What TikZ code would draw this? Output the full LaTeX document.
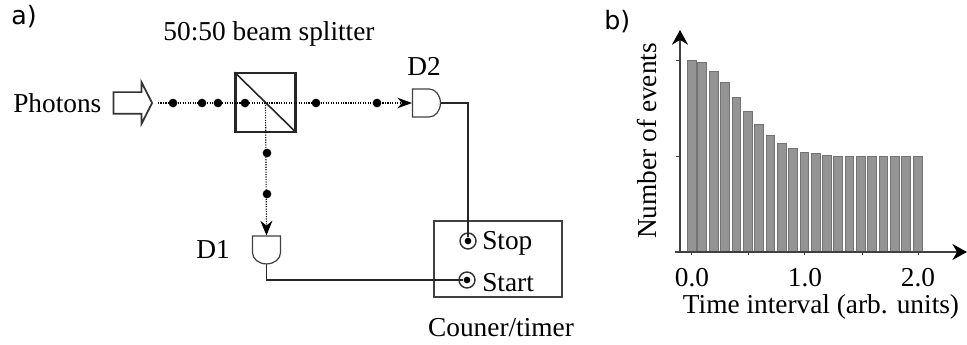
\documentclass[tikz,border=0pt]{standalone}
\usepackage{fontspec}
\setmainfont{Liberation Serif}
\newfontfamily\panelfont{DejaVu Sans}
\usetikzlibrary{arrows.meta,shapes.arrows,shapes.gates.logic.US}
\tikzset{
  label text/.style={inner sep=0.75pt,font=\fontsize{20.5}{24}\selectfont},
  panel text/.style={inner sep=0.75pt,font=\panelfont\fontsize{19}{22}\selectfont},
  photon/.style={circle,fill=black,inner sep=0pt,minimum size=6.5pt},
  beam/.style={densely dotted,line width=0.85pt},
  wire/.style={line width=1pt,color=black!85},
  detector/.style={shape=and gate US,draw=black!75,line width=0.9pt,inner sep=0pt,minimum width=21pt,minimum height=21pt},
  jack/.style={circle,draw=black!80,line width=1.1pt,inner sep=0pt,minimum size=12pt},
  jack dot/.style={circle,fill=black,inner sep=0pt,minimum size=5pt},
  bar/.style={fill=black!42,draw=black!55,line width=0.4pt},
  axis/.style={line width=1.2pt,color=black!75},
  axis tip/.style={-{Stealth[length=11pt,width=12pt,color=black]}},
}
\begin{document}
\begin{tikzpicture}[x=0.75pt,y=0.75pt,yscale=-1,xscale=1]
        \useasboundingbox (0,0) rectangle (967,345);

        % Optics
        \node (photonarrow) at (130,103) [shape=single arrow,draw=black!80,line width=1.3pt,inner xsep=0pt,inner ysep=7.5pt,minimum height=29pt,single arrow head extend=7.5pt,single arrow tip angle=126] {};
        \node (splitter) at (265.5,102.5) [draw=black!85,line width=1.6pt,inner sep=0pt,minimum width=45pt,minimum height=44pt] {};
        \node (dtwo) at (425.5,103) [detector,xscale=0.8] {};
        \node (done) at (266.5,249) [detector,rotate=-90,xscale=0.8] {};
        \coordinate (beamstart) at (158,103);

        %Straight Lines
        \draw [line width=1.2pt,color=black!85] (splitter.north west) -- (splitter.south east) ;
        \draw [beam,-{Stealth[length=11pt,width=8pt]}] (beamstart) -- (dtwo.west) ;
        \draw [beam,-{Stealth[length=11pt,width=9pt]}] (splitter.center) -- (done.west) ;

        % Photons
        \node (pa) at (173,103) [photon] {};
        \node (pb) at (202,103) [photon] {};
        \node (pc) at (218,103) [photon] {};
        \node (pd) at (245,103) [photon] {};
        \node (pe) at (316,103) [photon] {};
        \node (pf) at (377,103) [photon] {};
        \node (pg) at (267,153) [photon] {};
        \node (ph) at (267,194) [photon] {};

        % Counter
        \node (counter) at (498,259) [draw=black!75,line width=1pt,inner sep=0pt,minimum width=96pt,minimum height=57pt] {};
        \node (stopjack) at (468,241) [jack] {};
        \node (startjack) at (467,280) [jack] {};
        \node (stopdot) at (468,241) [jack dot] {};
        \node (startdot) at (467,280) [jack dot] {};

        %Straight Lines
        \draw [wire] (dtwo.east) -- (dtwo.east -| stopdot) -- (stopdot) ;
        \draw [wire] (done.east) |- (startdot) ;

        % Text Node
        \draw (10,17) node (parta) [anchor=west][panel text] {a)};
        % Text Node
        \draw (269,34) node (splitterlabel) [label text] {50:50 beam splitter};
        % Text Node
        \draw (12,103) node (photonlabel) [anchor=west][label text] {Photons};
        % Text Node
        \draw (424,66) node (dtwolabel) [label text] {D2};
        % Text Node
        \draw (213,250) node (donelabel) [label text] {D1};
        % Text Node
        \draw (481,243) node (stoplabel) [anchor=west][label text] {Stop};
        % Text Node
        \draw (481,283) node (startlabel) [anchor=west][label text] {Start};
        % Text Node
        \draw (501,328) node (counterlabel) [label text] {Couner/timer};

        % Bars
        \draw [bar] (687.3,252) rectangle (696.0,60) ;
        \draw [bar] (697.6,252) rectangle (706.3,62.3) ;
        \draw [bar] (709.4,252) rectangle (718.1,71.3) ;
        \draw [bar] (720.7,252) rectangle (729.4,82.7) ;
        \draw [bar] (732.0,252) rectangle (740.7,97) ;
        \draw [bar] (743.3,252) rectangle (752.0,111.7) ;
        \draw [bar] (754.6,252) rectangle (763.3,124.7) ;
        \draw [bar] (765.9,252) rectangle (774.6,135.3) ;
        \draw [bar] (777.2,252) rectangle (785.9,143) ;
        \draw [bar] (788.5,252) rectangle (797.2,148.7) ;
        \draw [bar] (799.8,252) rectangle (808.5,152) ;
        \draw [bar] (811.1,252) rectangle (819.8,153.7) ;
        \draw [bar] (822.4,252) rectangle (831.1,155.7) ;
        \draw [bar] (833.7,252) rectangle (842.4,156) ;
        \draw [bar] (845.0,252) rectangle (853.7,156) ;
        \draw [bar] (856.3,252) rectangle (865.0,156) ;
        \draw [bar] (867.6,252) rectangle (876.3,156) ;
        \draw [bar] (878.9,252) rectangle (887.6,156) ;
        \draw [bar] (890.2,252) rectangle (898.9,156) ;
        \draw [bar] (901.5,252) rectangle (910.2,156) ;
        \draw [bar] (912.8,252) rectangle (922.5,156) ;

        % Axes
        \coordinate (xstart) at (675,252);
        \coordinate (xend) at (967,252);
        \coordinate (ystart) at (680,252);
        \coordinate (yend) at (680,30);
        \draw [axis,axis tip] (xstart) -- (xend) ;
        \draw [axis,axis tip] (ystart) -- (yend) ;
        \draw [axis,line width=0.7pt] (680,60) -- (676,60) ;
        \draw [axis,line width=0.7pt] (680,156) -- (676,156) ;
        \draw [axis,line width=0.7pt] (691,252) -- (691,255) ;
        \draw [axis,line width=0.7pt] (748,252) -- (748,255) ;
        \draw [axis,line width=0.7pt] (804,252) -- (804,255) ;
        \draw [axis,line width=0.7pt] (862,252) -- (862,255) ;
        \draw [axis,line width=0.7pt] (918,252) -- (918,255) ;

        % Text Node
        \draw (603,22) node (partb) [anchor=west][panel text] {b)};
        % Text Node
        \draw (647,141) node (ylabel) [rotate=90,label text] {Number of events};
        % Text Node
        \draw (692,278) node (ticka) [label text] {0.0};
        % Text Node
        \draw (805,278) node (tickb) [label text] {1.0};
        % Text Node
        \draw (918,278) node (tickc) [label text] {2.0};
        % Text Node
        \draw (821,307) node (xlabel) [label text] {Time interval (arb. units)};

    \end{tikzpicture}
\end{document}
